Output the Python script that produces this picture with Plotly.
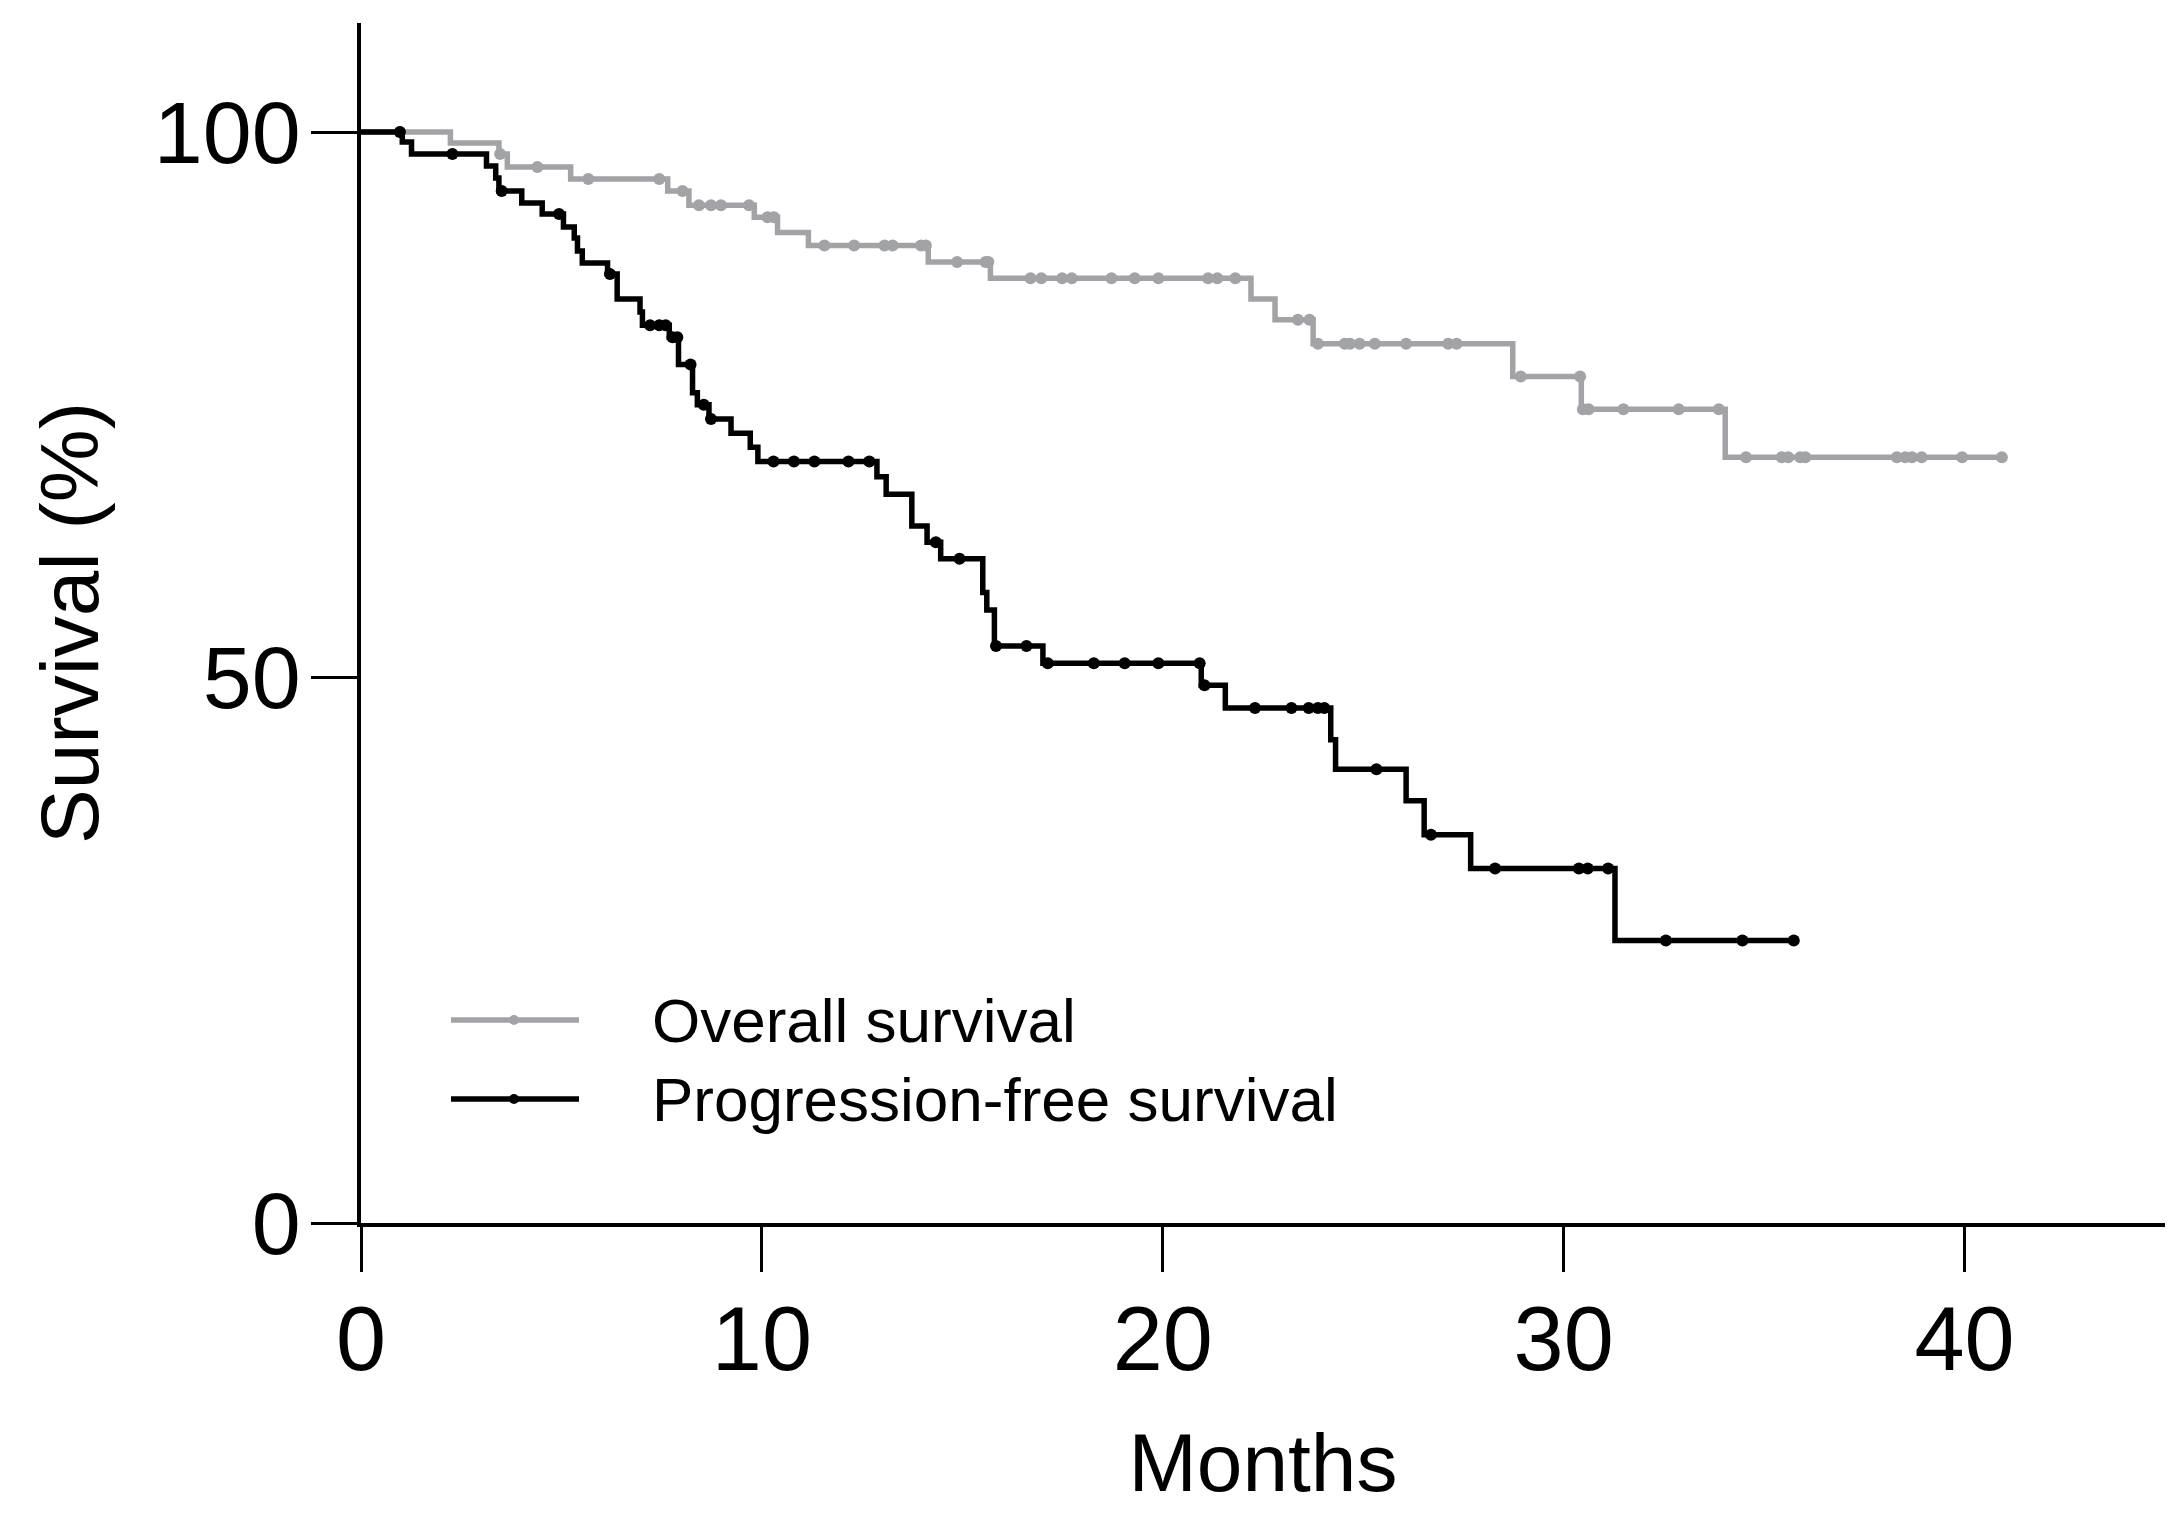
import plotly.graph_objects as go

# ---------------- data ----------------
os_event_months = [2.23, 3.44, 3.65, 5.23, 7.65, 8.18, 9.81, 10.39, 11.16, 14.15,
                   15.70, 22.20, 22.80, 23.75, 28.73, 30.44, 34.03]
os_event_surv = [99.0, 98.0, 96.8, 95.7, 94.6, 93.3, 92.2, 90.8, 89.6, 88.1,
                 86.6, 84.7, 82.8, 80.6, 77.6, 74.6, 70.2]
os_censor_months = [0.97, 3.47, 4.40, 5.67, 7.44, 8.02, 8.43, 8.73, 8.98, 9.68,
                    10.14, 10.30, 11.56, 12.30, 13.06, 13.26, 13.97, 14.09,
                    14.87, 15.58, 15.65, 16.70, 16.97, 17.49, 17.73, 18.72,
                    19.30, 19.89, 21.13, 21.36, 21.81, 23.37, 23.66, 23.87,
                    24.54, 24.67, 24.91, 25.29, 26.07, 27.12, 27.33, 28.93,
                    30.41, 30.48, 30.62, 31.49, 32.87, 33.87, 34.55, 35.44,
                    35.60, 35.90, 36.03, 38.31, 38.52, 38.69, 38.93, 39.94, 40.93]

pfs_event_months = [1.03, 1.26, 3.13, 3.36, 3.44, 4.01, 4.52, 5.05, 5.32, 5.40,
                    5.52, 6.15, 6.39, 6.96, 7.02, 7.69, 7.92, 8.27, 8.39, 8.68,
                    9.23, 9.71, 9.90, 12.87, 13.10, 13.74, 14.12, 14.46, 15.51,
                    15.61, 15.80, 17.01, 20.96, 21.56, 24.19, 24.31, 26.07,
                    26.52, 27.68, 31.28]
pfs_event_surv = [99.1, 98.0, 96.9, 95.8, 94.6, 93.5, 92.5, 91.3, 90.3, 89.1,
                  88.0, 87.0, 84.7, 83.5, 82.3, 81.2, 78.7, 76.1, 75.0, 73.7,
                  72.4, 71.1, 69.8, 68.4, 66.8, 63.9, 62.4, 60.9, 57.8,
                  56.2, 52.9, 51.3, 49.3, 47.2, 44.3, 41.6, 38.7,
                  35.6, 32.5, 25.9]
pfs_censor_months = [0.97, 2.28, 3.51, 4.94, 6.21, 7.21, 7.44, 7.60, 7.77, 7.89,
                     8.22, 8.55, 8.73, 10.29, 10.80, 11.31, 12.16, 12.68, 14.34,
                     14.93, 15.84, 16.60, 17.13, 18.28, 19.05, 19.89, 20.92,
                     21.04, 22.30, 23.21, 23.64, 23.87, 24.03, 25.33, 26.69,
                     28.29, 30.38, 30.60, 31.11, 32.55, 34.46, 35.74]

series_names = ["Overall survival", "Progression-free survival"]
x_ticks = [0, 10, 20, 30, 40]
y_ticks = [0, 50, 100]
x_title = "Months"
y_title = "Survival (%)"

GRAY = "#A2A3A7"
BLACK = "#000000"
FONT = "Liberation Sans, Arial, sans-serif"


def step_xy(ev_t, ev_s, censors):
    end = max(max(ev_t), max(censors))
    xs = [0] + list(ev_t) + [end]
    ys = [100] + list(ev_s) + [ev_s[-1]]
    return xs, ys


def surv_at(t, ev_t, ev_s):
    s = 100.0
    for et, es in zip(ev_t, ev_s):
        if et <= t:
            s = es
    return s


fig = go.Figure()
for name, ev_t, ev_s, cens, col in [
    (series_names[0], os_event_months, os_event_surv, os_censor_months, GRAY),
    (series_names[1], pfs_event_months, pfs_event_surv, pfs_censor_months, BLACK),
]:
    xs, ys = step_xy(ev_t, ev_s, cens)
    fig.add_trace(go.Scatter(x=xs, y=ys, mode="lines", line=dict(color=col, width=5.5, shape="hv"),
                             name=name, showlegend=False, hoverinfo="skip"))
    fig.add_trace(go.Scatter(x=cens, y=[surv_at(c, ev_t, ev_s) for c in cens], mode="markers",
                             marker=dict(color=col, size=12, line=dict(width=0)),
                             name=name, showlegend=False, hoverinfo="skip"))

# ---------------- layout ----------------
W, H = 2182, 1517
L, R, T, B = 361, 2165, 23, 1223


def px_x(p):
    return (p - L) / (R - L)


def px_y(p):
    return (B - p) / (B - T)


shapes = []
annotations = []
for i, (name, col) in enumerate(zip(series_names, [GRAY, BLACK])):
    yy = px_y(1020 + i * 79)
    shapes.append(dict(type="line", xref="paper", yref="paper", x0=px_x(451), x1=px_x(579),
                       y0=yy, y1=yy, line=dict(color=col, width=5.5)))
    shapes.append(dict(type="circle", xref="paper", yref="paper", xsizemode="pixel", ysizemode="pixel",
                       xanchor=px_x(514), yanchor=yy, x0=-5, x1=5, y0=-5, y1=5,
                       fillcolor=col, line=dict(width=0)))
    annotations.append(dict(text=name, xref="paper", yref="paper", x=px_x(650), y=yy,
                            xanchor="left", yanchor="middle", showarrow=False,
                            font=dict(family=FONT, size=62, color="black")))

fig.update_layout(
    width=W, height=H,
    margin=dict(l=L, r=W - R, t=T, b=H - B, pad=0),
    paper_bgcolor="white", plot_bgcolor="white",
    shapes=shapes, annotations=annotations,
    font=dict(family=FONT, color="black"),
)
fig.update_xaxes(range=[0, 45], tickvals=x_ticks, ticktext=[str(v) for v in x_ticks],
                 showgrid=False, zeroline=False, showline=True, linecolor="black", linewidth=3.5,
                 ticks="outside", ticklen=45, tickwidth=2.5, tickcolor="black",
                 ticklabelstandoff=-10,
                 tickfont=dict(family=FONT, size=90, color="black"),
                 title=dict(text=x_title, font=dict(family=FONT, size=82, color="black"), standoff=47))
fig.update_yaxes(range=[0, 110], tickvals=y_ticks, ticktext=[str(v) for v in y_ticks],
                 showgrid=False, zeroline=False, showline=True, linecolor="black", linewidth=3.5,
                 ticks="outside", ticklen=46, tickwidth=2.5, tickcolor="black",
                 ticklabelstandoff=-7,
                 tickfont=dict(family=FONT, size=88, color="black"),
                 title=dict(text=y_title, font=dict(family=FONT, size=82, color="black"), standoff=29))

fig.write_html("out.html", config={"displayModeBar": False},
               post_script="document.body.style.margin='0';")
